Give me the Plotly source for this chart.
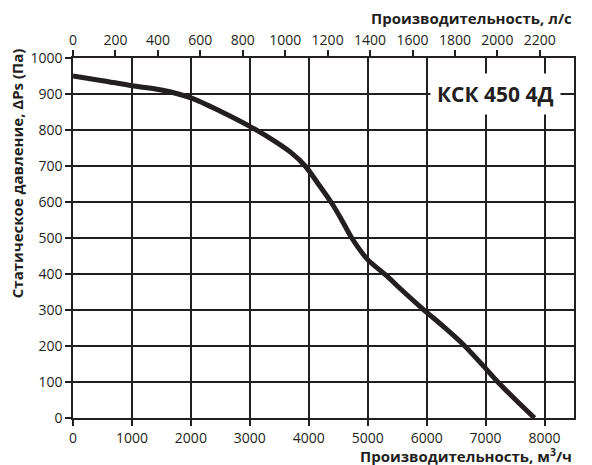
import plotly.graph_objects as go

# Data (m³/h vs Pa)
flow_m3h = [0, 500, 1000, 1500, 2000, 2500, 3000, 3400, 3700, 3940, 4150, 4377, 4550, 4730, 5000, 5300, 5600, 5941, 6300, 6617, 7000, 7208, 7500, 7830]
pressure_pa = [950, 937, 923, 911, 889, 852, 810, 771, 737, 700, 653, 600, 553, 500, 440, 398, 352, 302, 252, 205, 138, 100, 52, 0]

x_ticks = [0, 1000, 2000, 3000, 4000, 5000, 6000, 7000, 8000]
top_ticks = [0, 200, 400, 600, 800, 1000, 1200, 1400, 1600, 1800, 2000, 2200]
y_ticks = [0, 100, 200, 300, 400, 500, 600, 700, 800, 900, 1000]

X_MAX = 8500
LS_FACTOR = 3.6  # m³/h per l/s

ink = "#231f20"
font_fam = "Open Sans, Noto Sans, sans-serif"

fig = go.Figure()
fig.add_trace(go.Scatter(
    x=flow_m3h, y=pressure_pa, mode="lines",
    line=dict(color=ink, width=5, shape="spline", smoothing=0.8),
    hoverinfo="skip", showlegend=False))
# invisible trace to activate the top (l/s) axis
fig.add_trace(go.Scatter(x=[0, X_MAX / LS_FACTOR], y=[0, 0], xaxis="x2", mode="lines",
                         line=dict(width=0), opacity=0, showlegend=False, hoverinfo="skip"))

fig.update_layout(
    width=576, height=457,
    margin=dict(l=65, r=8, t=50, b=47),
    paper_bgcolor="white", plot_bgcolor="white",
    font=dict(family=font_fam, size=14, color=ink),
    xaxis=dict(range=[0, X_MAX], tickvals=x_ticks, ticktext=[str(v) for v in x_ticks],
               showgrid=True, gridcolor=ink, gridwidth=1.5,
               showline=True, linecolor=ink, linewidth=1.5, mirror=False,
               ticks="outside", ticklen=6, tickcolor=ink, tickwidth=1.5,
               zeroline=False, fixedrange=True),
    xaxis2=dict(range=[0, X_MAX / LS_FACTOR], overlaying="x", side="top",
                tickvals=top_ticks, ticktext=[str(v) for v in top_ticks],
                showgrid=False, showline=True, linecolor=ink, linewidth=1.5,
                ticks="outside", ticklen=6, tickcolor=ink, tickwidth=1.5,
                zeroline=False, fixedrange=True),
    yaxis=dict(range=[0, 1000], tickvals=y_ticks, ticktext=[str(v) for v in y_ticks],
               showgrid=True, gridcolor=ink, gridwidth=1.5,
               showline=True, linecolor=ink, linewidth=1.5, mirror=True,
               ticks="outside", ticklen=6, tickcolor=ink, tickwidth=1.5,
               zeroline=False, fixedrange=True),
    showlegend=False,
)

fig.add_annotation(text="<b>КСК 450 4Д</b>", xref="paper", yref="paper",
                   x=0.975, y=0.9, xanchor="right", yanchor="middle",
                   showarrow=False, bgcolor="white", borderpad=6,
                   font=dict(size=21, color=ink, family="Liberation Sans Narrow, Open Sans, sans-serif"))
fig.add_annotation(text="<b>Производительность, л/с</b>", xref="paper", yref="paper",
                   x=1.0, y=1.0, yshift=40, xanchor="right", yanchor="middle",
                   showarrow=False, font=dict(size=15, color=ink))
fig.add_annotation(text="<b>Производительность, м<sup>3</sup>/ч</b>", xref="paper", yref="paper",
                   x=1.0, y=0.0, yshift=-37, xanchor="right", yanchor="middle",
                   showarrow=False, font=dict(size=15, color=ink))
fig.add_annotation(text="<b>Статическое давление, ΔPs (Па)</b>", xref="paper", yref="paper",
                   x=0.0, xshift=-56, y=0.68, xanchor="center", yanchor="middle",
                   textangle=-90, showarrow=False, font=dict(size=15, color=ink))

fig.write_html("out.html")
